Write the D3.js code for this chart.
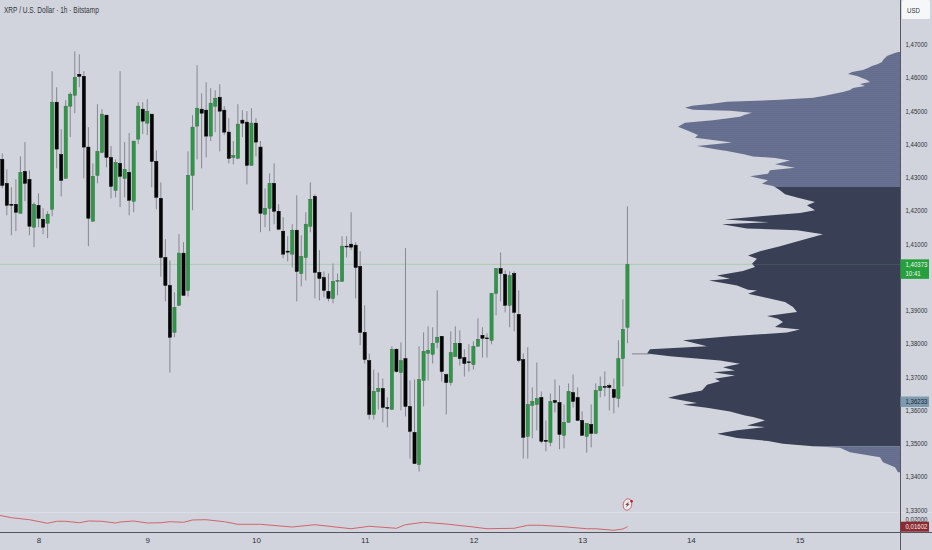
<!DOCTYPE html>
<html>
<head>
<meta charset="utf-8">
<script src="https://cdn.jsdelivr.net/npm/d3@7"></script>
<style>
html, body { margin: 0; padding: 0; background: #d1d4dc; }
svg { display: block; font-family: "Liberation Sans", sans-serif; }
</style>
</head>
<body>
<div id="chart"></div>
<script>
// DATA--------------------
var opens = [1.4353,1.4281,1.4218,1.4218,1.4191,1.4317,1.4293,1.4149,1.4215,1.4173,1.4161,1.4203,1.4525,1.4368,1.4296,1.4513,1.4546,1.4609,1.4603,1.4390,
  1.4167,1.4305,1.4374,1.4486,1.4359,1.4260,1.4341,1.4296,1.4314,1.4227,1.4414,1.4504,1.4462,1.4489,1.4347,1.4236,1.4058,1.3974,1.3833,1.3914,
  1.4071,1.3959,1.4305,1.4453,1.4504,1.4501,1.4423,1.4513,1.4540,1.4501,1.4435,1.4359,1.4356,1.4471,1.4465,1.4335,1.4462,1.4390,1.4188,1.4206,
  1.4281,1.4197,1.4137,1.4077,1.4068,1.4140,1.4010,1.4058,1.4152,1.4242,1.4013,1.3998,1.3956,1.3935,1.3986,1.3986,1.4092,1.4098,1.4095,1.4031,
  1.3833,1.3748,1.3586,1.3655,1.3664,1.3607,1.3601,1.3782,1.3712,1.3754,1.3610,1.3532,1.3435,1.3688,1.3770,1.3767,1.3803,1.3821,1.3706,1.3682,
  1.3760,1.3800,1.3757,1.3744,1.3736,1.3791,1.3824,1.3816,1.3809,1.3950,1.4025,1.4007,1.3914,1.4010,1.3887,1.3751,1.3520,1.3613,1.3616,1.3637,
  1.3508,1.3502,1.3628,1.3622,1.3523,1.3562,1.3652,1.3637,1.3568,1.3520,1.3556,1.3529,1.3658,1.3670,1.3673,1.3661,1.3634,1.3754,1.3848];
var highs = [1.4371,1.4323,1.4269,1.4293,1.4362,1.4405,1.4320,1.4224,1.4251,1.4206,1.4197,1.4618,1.4570,1.4444,1.4531,1.4555,1.4678,1.4669,1.4618,1.4450,
  1.4341,1.4519,1.4504,1.4486,1.4393,1.4353,1.4618,1.4405,1.4432,1.4408,1.4525,1.4525,1.4534,1.4489,1.4380,1.4284,1.4113,1.4049,1.3953,1.4128,
  1.4104,1.4377,1.4486,1.4636,1.4552,1.4585,1.4567,1.4561,1.4579,1.4513,1.4477,1.4408,1.4519,1.4501,1.4498,1.4507,1.4477,1.4408,1.4266,1.4311,
  1.4341,1.4218,1.4179,1.4122,1.4158,1.4245,1.4125,1.4194,1.4284,1.4248,1.4080,1.4016,1.4010,1.4040,1.4010,1.4122,1.4122,1.4194,1.4104,1.4077,
  1.3914,1.3769,1.3721,1.3712,1.3694,1.3637,1.3791,1.3785,1.3803,1.4086,1.3688,1.3691,1.3791,1.3833,1.3851,1.3848,1.3959,1.3821,1.3709,1.3836,
  1.3851,1.3839,1.3782,1.3797,1.3806,1.3875,1.3848,1.3830,1.3950,1.4025,1.4073,1.4019,1.4016,1.4016,1.3959,1.3769,1.3788,1.3667,1.3742,1.3655,
  1.3568,1.3649,1.3691,1.3673,1.3616,1.3679,1.3706,1.3667,1.3595,1.3559,1.3616,1.3679,1.3700,1.3715,1.3679,1.3694,1.3809,1.3932,1.4212];
var lows = [1.4266,1.4185,1.4125,1.4137,1.4191,1.4227,1.4125,1.4089,1.4149,1.4128,1.4116,1.4182,1.4326,1.4242,1.4296,1.4420,1.4492,1.4570,1.4296,1.4092,
  1.4167,1.4281,1.4371,1.4329,1.4236,1.4239,1.4209,1.4239,1.4185,1.4194,1.4399,1.4429,1.4426,1.4269,1.4203,1.4000,1.3926,1.3712,1.3818,1.3914,
  1.3944,1.3941,1.4200,1.4353,1.4326,1.4359,1.4408,1.4435,1.4377,1.4426,1.4341,1.4338,1.4356,1.4420,1.4278,1.4335,1.4362,1.4134,1.4149,1.4137,
  1.4158,1.4140,1.4056,1.4046,1.4028,1.3926,1.3971,1.3989,1.4134,1.3935,1.3929,1.3938,1.3926,1.3920,1.3944,1.3986,1.4058,1.4080,1.3935,1.3794,
  1.3739,1.3571,1.3571,1.3601,1.3562,1.3547,1.3601,1.3712,1.3598,1.3580,1.3453,1.3438,1.3414,1.3610,1.3688,1.3739,1.3785,1.3685,1.3586,1.3673,
  1.3760,1.3733,1.3700,1.3715,1.3721,1.3791,1.3757,1.3757,1.3797,1.3884,1.3926,1.3893,1.3848,1.3836,1.3742,1.3453,1.3453,1.3514,1.3538,1.3499,
  1.3475,1.3490,1.3592,1.3481,1.3484,1.3562,1.3607,1.3568,1.3523,1.3471,1.3487,1.3529,1.3637,1.3640,1.3598,1.3589,1.3607,1.3670,1.3800];
var closes = [1.4275,1.4215,1.4215,1.4194,1.4314,1.4281,1.4152,1.4218,1.4176,1.4149,1.4188,1.4525,1.4384,1.4290,1.4513,1.4549,1.4600,1.4603,1.4390,1.4176,
  1.4302,1.4377,1.4489,1.4359,1.4272,1.4344,1.4302,1.4323,1.4230,1.4408,1.4513,1.4468,1.4498,1.4347,1.4239,1.4058,1.3974,1.3818,1.3908,1.4071,
  1.3944,1.4305,1.4450,1.4507,1.4492,1.4423,1.4522,1.4537,1.4498,1.4435,1.4356,1.4365,1.4459,1.4462,1.4335,1.4462,1.4405,1.4191,1.4206,1.4281,
  1.4197,1.4143,1.4068,1.4074,1.4140,1.4016,1.4061,1.4158,1.4233,1.4013,1.3995,1.3959,1.3935,1.3986,1.3989,1.4092,1.4090,1.4089,1.4028,1.3833,
  1.3751,1.3586,1.3655,1.3664,1.3607,1.3604,1.3782,1.3715,1.3748,1.3610,1.3535,1.3438,1.3691,1.3776,1.3779,1.3800,1.3818,1.3715,1.3682,1.3772,
  1.3800,1.3754,1.3739,1.3742,1.3791,1.3812,1.3815,1.3814,1.3950,1.4025,1.4010,1.3914,1.4004,1.3893,1.3748,1.3517,1.3616,1.3625,1.3634,1.3505,
  1.3505,1.3625,1.3622,1.3526,1.3562,1.3655,1.3625,1.3568,1.3523,1.3559,1.3529,1.3658,1.3670,1.3668,1.3667,1.3637,1.3754,1.3842,1.40373];

// volume profile, left edge read level by level
var profilePrices = [1.4676,1.4670,1.4664,1.4658,1.4652,1.4646,1.4640,1.4634,1.4628,1.4622,1.4616,1.4610,1.4604,1.4598,1.4592,1.4586,1.4580,1.4574,1.4568,1.4562,
  1.4556,1.4550,1.4544,1.4538,1.4532,1.4526,1.4520,1.4514,1.4508,1.4502,1.4499,1.4493,1.4487,1.4481,1.4471,1.4463,1.4451,1.4439,1.4426,1.4418,
  1.4411,1.4404,1.4393,1.4383,1.4378,1.4368,1.4362,1.4357,1.4350,1.4338,1.4328,1.4320,1.4310,1.4302,1.4290,1.4280,1.4273,1.4270,1.4260,1.4248,
  1.4238,1.4225,1.4215,1.4200,1.4192,1.4183,1.4172,1.4164,1.4158,1.4145,1.4140,1.4128,1.4113,1.4092,1.4077,1.4064,1.4054,1.4039,1.4029,1.4017,
  1.4004,1.3994,1.3989,1.3974,1.3961,1.3959,1.3949,1.3939,1.3924,1.3909,1.3894,1.3882,1.3874,1.3864,1.3849,1.3841,1.3832,1.3821,1.3809,1.3791,
  1.3782,1.3769,1.3761,1.3748,1.3738,1.3728,1.3718,1.3713,1.3703,1.3693,1.3686,1.3675,1.3658,1.3645,1.3636,1.3628,1.3620,1.3615,1.3606,1.3595,
  1.3583,1.3578,1.3568,1.3553,1.3548,1.3538,1.3528,1.3515,1.3506,1.3498,1.3490,1.3486,1.3472,1.3457,1.3442,1.3427,1.3412];
var profileVolumes = [2,8,13,15,17,18,22,28,32,37,48,52,43,38,33,30,40,35,47,50,
  57,67,75,87,120,173,188,208,215,207,170,148,155,160,187,215,222,212,202,205,
  187,168,203,183,173,155,147,125,110,125,105,130,132,150,132,138,127,125,120,115,
  103,85,93,85,100,137,175,131,178,153,103,77,95,120,140,152,143,148,145,157,
  183,170,191,163,152,143,152,137,115,107,103,133,122,117,125,100,113,170,217,193,
  250,253,230,180,160,177,165,187,165,185,180,193,198,220,232,217,203,217,193,170,
  155,147,135,153,135,163,183,163,132,117,87,60,50,20,17,5,2];
var valueAreaHigh = 1.4270;
var valueAreaLow = 1.3490;
var pocPrice = 1.3768;

// lower pane line
var oscBars = [-1,2,6,10,12,14,17,19,22,25,26,29,32,35,37,40,42,45,49,52,57,64,69,77,81,87,89,93,98,104,107,113,116,119,124,129,131,135,137,138];
var oscValues = [.0242,.0223,.0209,.0184,.0198,.0198,.0188,.0200,.0198,.0186,.0193,.0200,.0186,.0188,.0195,.0191,.0207,.0209,.0195,.0177,.0177,.0158,.0174,.0146,.0163,.0149,.0174,.0191,.0179,.0158,.0146,.0149,.0170,.0170,.0160,.0146,.0146,.0135,.0144,.01602];

var priceTicks = [1.47,1.46,1.45,1.44,1.43,1.42,1.41,1.39,1.38,1.37,1.36,1.35,1.34,1.33];
var dayBars = [8,32,56,80,104,128,152,176];
var dayLabels = ["8","9","10","11","12","13","14","15"];
var lastPrice = 1.40373;
var otherPrice = 1.36233;
var lastCountdown = "10:41";
var oscLast = 0.01602;
var title = "XRP / U.S. Dollar · 1h · Bitstamp";

//SET BOUNDARIES--------------------
var svgWidth = 932;
var svgHeight = 550;
var axisX = 900.5;
var axisY = 532.5;

var svg = d3.select("#chart").append("svg")
  .attr("width", svgWidth)
  .attr("height", svgHeight);

// scales
var xBar = d3.scaleLinear().domain([0, 24]).range([2.3, 111.02]);
var yPrice = d3.scaleLinear().domain([1.47, 1.33]).range([44, 509.5]);
var yOsc = d3.scaleLinear().domain([0.02, 0.01]).range([521, 535.3]);
var xVolume = d3.scaleLinear().domain([0, 253]).range([axisX - 0.5, axisX - 253.5]);

function commaPrice(p) { return d3.format(".5f")(p).replace(".", ","); }

// the labels in the picture are squeezed sideways
var squeeze = 0.76;
function squeezed(sel, x, k) {
  return sel.attr("x", x / k).attr("transform", `scale(${k},1)`);
}

// row stripes seen in the outer profile
var rowPattern = svg.append("defs").append("pattern")
  .attr("id", "rows")
  .attr("patternUnits", "userSpaceOnUse")
  .attr("width", 4).attr("height", 2);
rowPattern.append("rect").attr("width", 4).attr("height", 2).attr("fill", "#646d8d");
rowPattern.append("rect").attr("width", 4).attr("height", 0.7).attr("fill", "#6a7291");

// last price line
svg.append("line")
  .attr("x1", 0).attr("x2", axisX)
  .attr("y1", yPrice(lastPrice)).attr("y2", yPrice(lastPrice))
  .attr("stroke", "#a9cdb0").attr("stroke-width", 1);

// value-area profile
var profileRows = profilePrices.map((p, i) => ({ price: p, volume: profileVolumes[i] }));
var profileArea = d3.area()
  .y(d => yPrice(d.price))
  .x0(xVolume(0))
  .x1(d => xVolume(d.volume));

var profileParts = [
  { rows: profileRows.filter(d => d.price >= valueAreaHigh), fill: "url(#rows)" },
  { rows: profileRows.filter(d => d.price <= valueAreaHigh && d.price >= valueAreaLow), fill: "#393f54" },
  { rows: profileRows.filter(d => d.price <= valueAreaLow), fill: "url(#rows)" }
];

svg.append("g").selectAll("path")
  .data(profileParts)
  .enter()
  .append("path")
  .attr("d", d => profileArea(d.rows))
  .attr("fill", d => d.fill);

// last price line stays faintly visible over the profile
svg.append("line")
  .attr("x1", xVolume(150)).attr("x2", axisX)
  .attr("y1", yPrice(lastPrice)).attr("y2", yPrice(lastPrice))
  .attr("stroke", "#a9cdb0").attr("stroke-opacity", 0.15).attr("stroke-width", 1);

// poc stub
svg.append("line")
  .attr("x1", xBar(139)).attr("x2", xVolume(250))
  .attr("y1", yPrice(pocPrice)).attr("y2", yPrice(pocPrice))
  .attr("stroke", "#6b6f7c").attr("stroke-width", 0.8);

// pane separator
svg.append("line")
  .attr("x1", 0).attr("x2", svgWidth)
  .attr("y1", 512.5).attr("y2", 512.5)
  .attr("stroke", "#dcdee5").attr("stroke-width", 1);

// candles
var candles = opens.map((o, i) => ({ i: i, o: o, h: highs[i], l: lows[i], c: closes[i] }));

var candleGroup = svg.append("g");

candleGroup.selectAll("line.wick")
  .data(candles)
  .enter()
  .append("line")
  .attr("class", "wick")
  .attr("x1", d => xBar(d.i)).attr("x2", d => xBar(d.i))
  .attr("y1", d => yPrice(d.h)).attr("y2", d => yPrice(d.l))
  .attr("stroke", "#85888f")
  .attr("stroke-width", 1);

candleGroup.selectAll("rect.body")
  .data(candles)
  .enter()
  .append("rect")
  .attr("class", "body")
  .attr("x", d => xBar(d.i) - 1.6)
  .attr("width", 3.2)
  .attr("y", d => yPrice(Math.max(d.o, d.c)))
  .attr("height", d => Math.max(Math.abs(yPrice(d.o) - yPrice(d.c)), 0.8))
  .attr("fill", d => d.c >= d.o ? "#2c9a44" : "#050505")
  .attr("stroke", d => d.c >= d.o ? "#3d6b4a" : "#050505")
  .attr("stroke-width", 0.5);

// lower pane line
var oscLine = d3.line()
  .x((d, i) => xBar(oscBars[i]))
  .y(d => yOsc(d));

svg.append("path")
  .datum(oscValues)
  .attr("d", oscLine)
  .attr("fill", "none")
  .attr("stroke", "#d0656d")
  .attr("stroke-width", 1);

// lightning marker
var marker = svg.append("g")
  .attr("transform", `translate(${xBar(138)},504.5) rotate(12)`);
marker.append("ellipse").attr("rx", 4.2).attr("ry", 5.8)
  .attr("fill", "#eceef2").attr("stroke", "#c2636b").attr("stroke-width", 0.9);
marker.append("path").attr("d", "M1,-3.6 L-2,0.8 L-0.2,0.8 L-1,3.6 L2,-1 L0.2,-1 Z").attr("fill", "#8c4650");
marker.append("circle").attr("cx", 3.4).attr("cy", -4).attr("r", 1.4).attr("fill", "#c2222c");

// axes lines
svg.append("line")
  .attr("x1", axisX).attr("x2", axisX).attr("y1", 0).attr("y2", svgHeight)
  .attr("stroke", "#54575f").attr("stroke-width", 1);
svg.append("line")
  .attr("x1", 0).attr("x2", svgWidth).attr("y1", axisY).attr("y2", axisY)
  .attr("stroke", "#54575f").attr("stroke-width", 1);

// price axis
var rightAxis = d3.axisRight(yPrice)
  .tickValues(priceTicks)
  .tickSize(0)
  .tickPadding(5)
  .tickFormat(commaPrice);

var yAxisGroup = svg.append("g")
  .attr("transform", `translate(${axisX},0)`)
  .call(rightAxis);
yAxisGroup.select(".domain").remove();
yAxisGroup.selectAll("text")
  .attr("fill", "#2f3238")
  .attr("font-size", 8)
  .call(squeezed, 5, squeeze);

// 0,02000 tick of the lower pane, half hidden by the red box
svg.append("text")
  .attr("y", yOsc(0.02) + 1.5)
  .attr("font-size", 8).attr("fill", "#2f3238")
  .text(commaPrice(0.02))
  .call(squeezed, axisX + 5, squeeze);

// time axis
var bottomAxis = d3.axisBottom(xBar)
  .tickValues(dayBars)
  .tickSize(0)
  .tickPadding(5)
  .tickFormat((d, i) => dayLabels[i]);

var xAxisGroup = svg.append("g")
  .attr("transform", `translate(0,${axisY})`)
  .call(bottomAxis);
xAxisGroup.select(".domain").remove();
xAxisGroup.selectAll("text")
  .attr("fill", "#2f3238")
  .attr("font-size", 8);

// price labels
function priceBox(y, h, fill, lines, color) {
  svg.append("rect")
    .attr("x", axisX).attr("y", y).attr("width", 28.5).attr("height", h)
    .attr("fill", fill);
  lines.forEach((t, i) => {
    svg.append("text")
      .attr("y", y + 7.7 + i * 9.3)
      .attr("font-size", 8).attr("fill", color)
      .text(t)
      .call(squeezed, axisX + 5, squeeze);
  });
}
priceBox(yPrice(otherPrice) - 5.5, 10.5, "#7e9ab0", [commaPrice(otherPrice)], "#23272e");
priceBox(yPrice(lastPrice) - 5, 19.5, "#25a03c", [commaPrice(lastPrice), lastCountdown], "#f4f6f4");
priceBox(yOsc(oscLast) - 5, 10, "#8b2a30", [commaPrice(oscLast)], "#f4eeee");

// USD box
svg.append("rect")
  .attr("x", 902).attr("y", 0).attr("width", 28).attr("height", 19).attr("rx", 1.5)
  .attr("fill", "#f6f7f9");
svg.append("text")
  .attr("y", 13.5)
  .attr("font-size", 8).attr("fill", "#2f3238")
  .text("USD")
  .call(squeezed, 907, squeeze);

// title
svg.append("text")
  .attr("y", 13)
  .attr("font-size", 8.2).attr("fill", "#33363d")
  .text(title)
  .call(squeezed, 4, 0.8);
</script>
</body>
</html>
